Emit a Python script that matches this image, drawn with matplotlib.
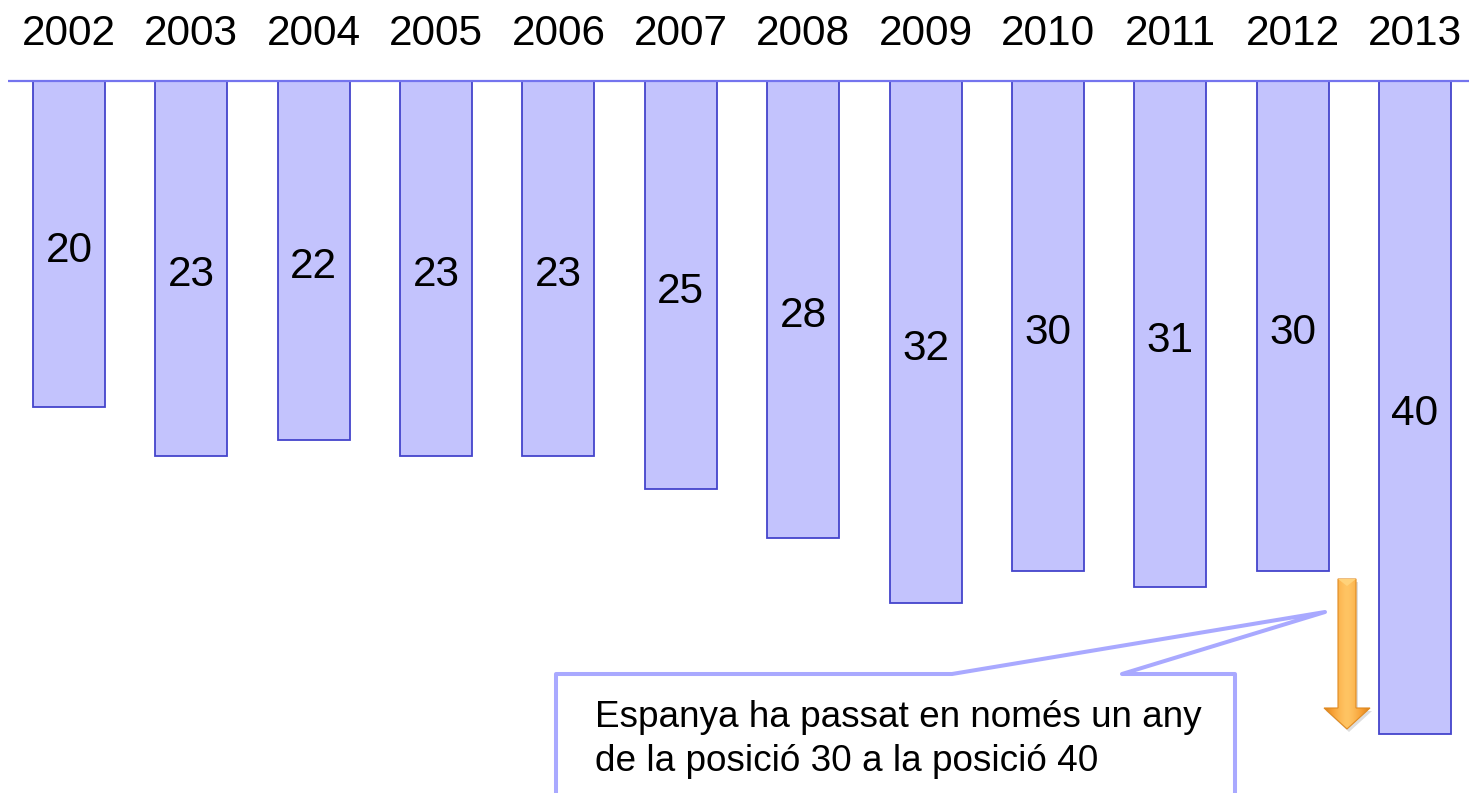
import numpy as np
import matplotlib.pyplot as plt
from matplotlib.patches import Polygon
from matplotlib.colors import LinearSegmentedColormap

plt.rcParams['font.family'] = ['Liberation Sans', 'DejaVu Sans']

years = ['2002', '2003', '2004', '2005', '2006', '2007',
         '2008', '2009', '2010', '2011', '2012', '2013']
positions = [20, 23, 22, 23, 23, 25, 28, 32, 30, 31, 30, 40]

bar_fill = '#C3C3FD'
bar_edge = '#4444CC'
line_col = '#7474EE'
callout_col = '#A9A9FF'

W, H = 1469, 793
fig = plt.figure(figsize=(W / 100, H / 100), dpi=100)

# main axes: bars hang from the top line (0) downwards
ax = fig.add_axes([0, 0, 1, 1])
px_per_unit = (734 - 80.5) / 40
x_step = (1415 - 69) / 11
ax.set_xlim(-69 / x_step, (W - 69) / x_step)
ax.set_ylim((H - 80.5) / px_per_unit, -80.5 / px_per_unit)
ax.axis('off')

x = np.arange(len(years))
ax.bar(x, positions, width=72 / x_step, bottom=0, color=bar_fill,
       edgecolor=bar_edge, linewidth=1.3, zorder=2)
ax.plot([-0.5, 11.6], [0, 0], color=line_col, lw=1.6, zorder=3,
        solid_capstyle='butt')

for xi, yr, v in zip(x, years, positions):
    ax.text(xi, -2.17, yr, ha='center', va='baseline', fontsize=30.5)
    ax.text(xi, v / 2 + 1.1, str(v), ha='center', va='baseline', fontsize=30.5)

# overlay in pixel coordinates for the callout and arrow
ov = fig.add_axes([0, 0, 1, 1], facecolor='none')
ov.set_xlim(0, W)
ov.set_ylim(H, 0)
ov.axis('off')

callout = [(556, 805), (556, 674), (952, 674), (1325, 612),
           (1122, 674), (1235, 674), (1235, 805)]
ov.add_patch(Polygon(callout, closed=True, facecolor='white',
                     edgecolor=callout_col, lw=2.9, joinstyle='round', zorder=4))
ov.text(595, 727, 'Espanya ha passat en només un any', fontsize=26.6,
        va='baseline', ha='left', zorder=5)
ov.text(595, 771, 'de la posició 30 a la posició 40', fontsize=26.6,
        va='baseline', ha='left', zorder=5)

# orange arrow with gradient
cx = 1347
arrow_pts = [(cx - 9, 579), (cx + 9, 579), (cx + 9, 708), (cx + 23, 708),
             (cx, 729), (cx - 23, 708), (cx - 9, 708)]
ov.add_patch(Polygon([(px + 2, py + 3) for px, py in arrow_pts], closed=True,
                     facecolor='#00000022', edgecolor='none', zorder=4))
t = np.linspace(-1, 1, 60)
shade = 1 - np.abs(t) ** 1.5
grad = np.tile(shade, (10, 1))
cmap = LinearSegmentedColormap.from_list('org', ['#D9801C', '#F7A035', '#FFC463'])
im = ov.imshow(grad, cmap=cmap, extent=(cx - 23, cx + 23, 729, 579),
               aspect='auto', zorder=5, interpolation='bilinear')
clip = Polygon(arrow_pts, closed=True, transform=ov.transData)
im.set_clip_path(clip)
ov.add_patch(Polygon(arrow_pts, closed=True, facecolor='none',
                     edgecolor='#E08A20', lw=0.8, zorder=6))
ov.add_patch(Polygon([(cx - 9, 579), (cx + 9, 579), (cx, 586)], closed=True,
                     facecolor='#FFD27A', edgecolor='none', zorder=6))
ov.set_xlim(0, W)
ov.set_ylim(H, 0)

fig.savefig('out.png', dpi=100)
